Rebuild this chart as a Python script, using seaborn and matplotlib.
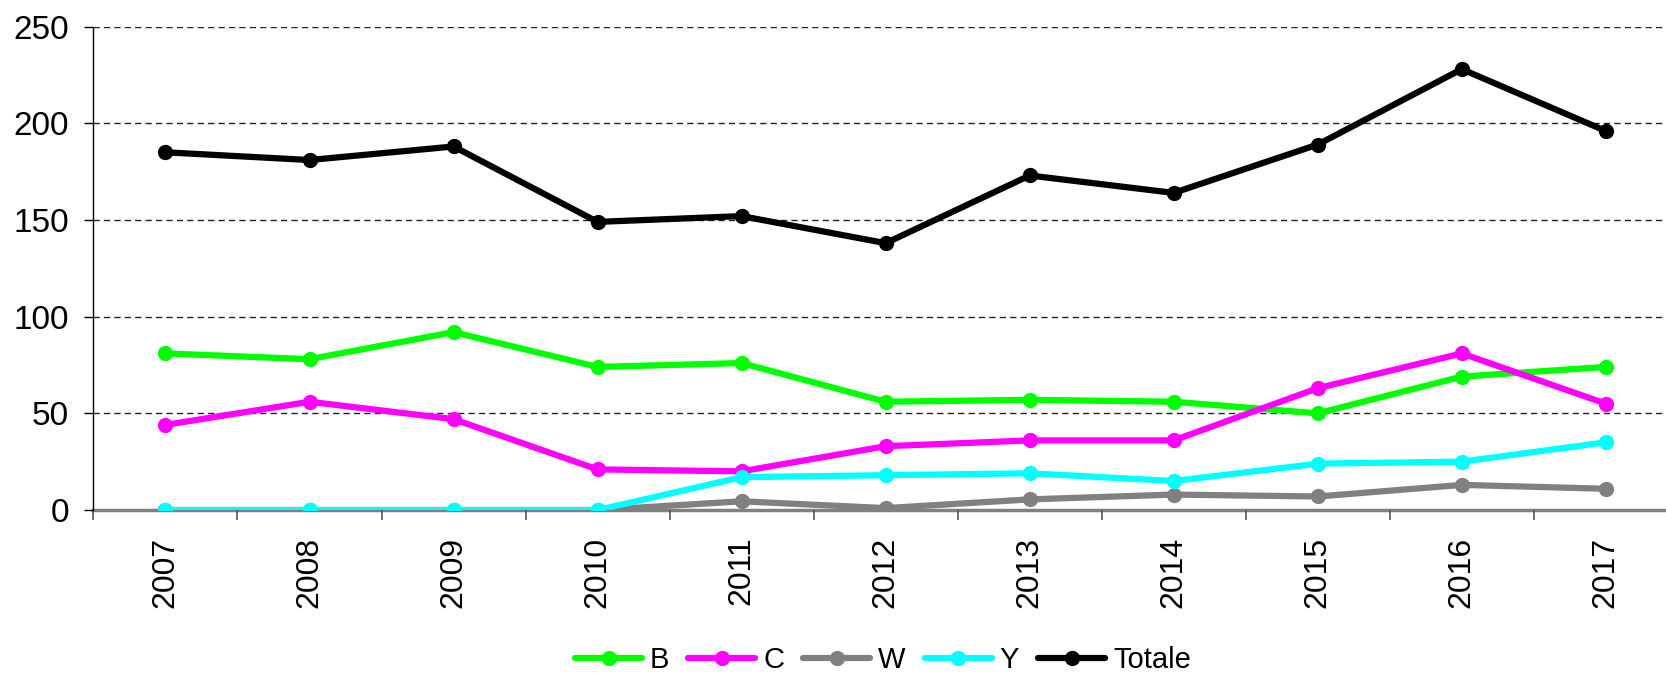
import matplotlib
matplotlib.use("Agg")
import matplotlib.pyplot as plt
import seaborn as sns
import pandas as pd
import numpy as np
from matplotlib.lines import Line2D

years = ["2007", "2008", "2009", "2010", "2011", "2012", "2013", "2014", "2015", "2016", "2017"]
b_vals = [81, 78, 92, 74, 76, 56, 57, 56, 50, 69, 74]
c_vals = [44, 56, 47, 21, 20, 33, 36, 36, 63, 81, 55]
w_vals = [0, 0, 0, 0, 4.5, 1, 5.5, 8, 7, 13, 11]
y_vals = [0, 0, 0, 0, 17, 18, 19, 15, 24, 25, 35]
tot_vals = [185, 181, 188, 149, 152, 138, 173, 164, 189, 228, 196]

series_names = ["B", "C", "W", "Y", "Totale"]
series_vals = [b_vals, c_vals, w_vals, y_vals, tot_vals]
colors = ["#00FF00", "#FF00FF", "#808080", "#00FFFF", "#000000"]

df = pd.DataFrame({
    "year": years * len(series_names),
    "value": np.concatenate(series_vals),
    "series": np.repeat(series_names, len(years)),
})

sns.set_theme(style="white")
plt.rcParams["font.family"] = ["Liberation Sans", "DejaVu Sans"]
plt.rcParams["text.color"] = "black"
plt.rcParams["xtick.color"] = "black"
plt.rcParams["ytick.color"] = "black"

fig = plt.figure(figsize=(16.66, 6.75), dpi=100)
ax = fig.add_axes([0.0561, 0.2444, 0.951, 0.7162])

sns.lineplot(data=df, x="year", y="value", hue="series", hue_order=series_names,
             palette=dict(zip(series_names, colors)), marker="o", markersize=11,
             markeredgewidth=0, linewidth=4.5, ax=ax, legend=False, sort=False)

ax.set_xlim(-0.5, 10.5)
ax.set_ylim(0, 250)
ax.set_yticks([0, 50, 100, 150, 200, 250])
ax.set_xlabel("")
ax.set_ylabel("")

for yv in [50, 100, 150, 200, 250]:
    ax.axhline(yv, color="#222222", linewidth=1.0, linestyle=(0, (4.5, 3)), zorder=0)

ax.tick_params(axis="y", which="major", length=6.5, width=1, color="black",
               direction="out", pad=11, labelsize=24, labelcolor="black", left=True)
ax.tick_params(axis="x", which="major", length=0, pad=19, labelsize=23, labelcolor="black",
               rotation=90, bottom=True)
ax.set_xticks(np.arange(-0.5, 11, 1), minor=True)
ax.tick_params(axis="x", which="minor", length=7, width=1.2, color="#555555", direction="out", bottom=True)

for s in ["top", "right"]:
    ax.spines[s].set_visible(False)
ax.spines["left"].set_color("black")
ax.spines["left"].set_linewidth(1)
ax.spines["bottom"].set_color("#808080")
ax.spines["bottom"].set_linewidth(2.5)
ax.spines["bottom"].set_zorder(0.5)

handles = [Line2D([0], [0], color=c, linewidth=4.5, marker="o", markersize=11, markeredgewidth=0)
           for c in colors]
fig.legend(handles, series_names, loc="center", bbox_to_anchor=(0.53, 0.022),
           ncol=5, frameon=False, fontsize=21, handlelength=2.3, handletextpad=0.27,
           columnspacing=0.65, borderaxespad=0)

fig.savefig("out.png", dpi=100)
